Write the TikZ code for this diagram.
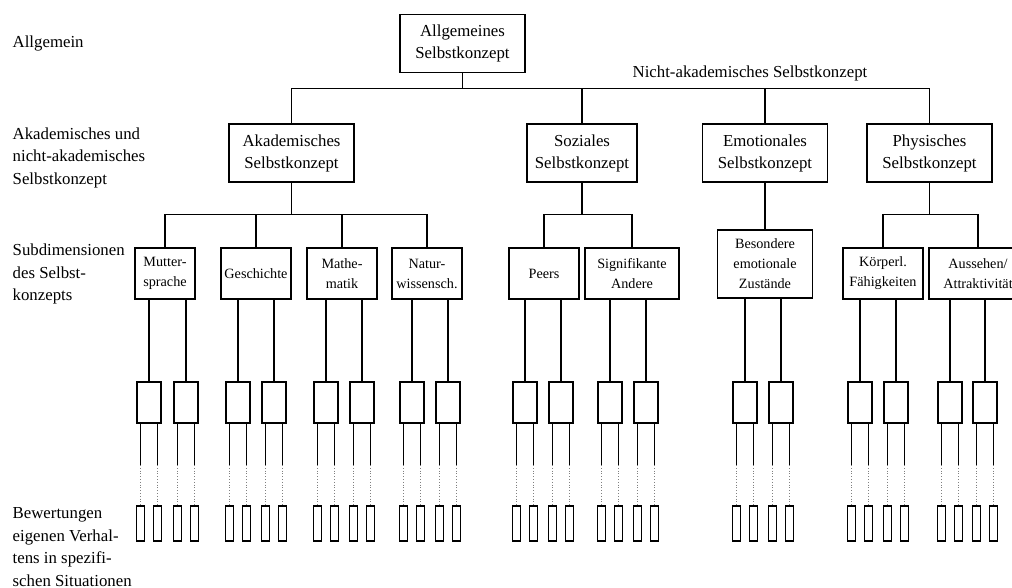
\documentclass[tikz,border=0pt]{standalone}
\usepackage{fontspec}
\setmainfont{Liberation Serif}
\begin{document}
\begin{tikzpicture}[x=0.5pt, y=-0.5pt, line width=0.7pt,
        lvl/.style={font=\fontsize{8.4}{11.25}\selectfont, align=left, anchor=west, inner sep=0pt},
        top/.style={rectangle, draw, align=center, inner sep=0pt, minimum height=29pt, font=\fontsize{8.4}{11}\selectfont},
        sub/.style={rectangle, draw, align=center, inner sep=0pt, minimum height=25.5pt, font=\fontsize{7.1}{10}\selectfont},
        midbox/.style={rectangle, draw, inner sep=0pt, minimum width=12pt, minimum height=20.5pt},
        tinybox/.style={rectangle, draw, inner sep=0pt, minimum width=4pt, minimum height=17.5pt}
    ]
    \useasboundingbox (0,0) rectangle (1012,588);
    \clip (0,0) rectangle (1012,588);
    % Ebenen
    \node[lvl] (lallg) at (12,43) {Allgemein};
    \node[lvl] (lakad) at (12,157.5) {Akademisches und\\nicht-akademisches\\Selbstkonzept};
    \node[lvl] (lsub) at (12,274) {Subdimensionen\\des Selbst-\\konzepts};
    \node[lvl] (lbew) at (12,547) {Bewertungen\\eigenen Verhal-\\tens in spezifi-\\schen Situationen};
    % Allgemeines Selbstkonzept
    \node[top, minimum width=62.5pt] (allg) at (462.5,43.5) {Allgemeines\\Selbstkonzept};
    \node[top, minimum width=62.5pt] (ak) at (291.5,153) {Akademisches\\Selbstkonzept};
    \node[top, minimum width=55pt] (so) at (582,153) {Soziales\\Selbstkonzept};
    \node[top, minimum width=62.5pt] (em) at (765,153) {Emotionales\\Selbstkonzept};
    \node[top, minimum width=62.5pt] (ph) at (929.5,153) {Physisches\\Selbstkonzept};
    \node[lvl, anchor=east] (nak) at (868,73) {Nicht-akademisches Selbstkonzept};
    \draw (allg.south) -- (allg.south |- 0,89);
    \draw (ak.north) -- ++(0,-35) -| (ph.north);
    \draw (so.north) -- (so.north |- 0,89);
    \draw (em.north) -- (em.north |- 0,89);
    % Subdimensionen
    \node[sub, minimum width=30pt] (mu) at (165,273.5) {Mutter-\\sprache};
    \node[sub, minimum width=35pt] (ge) at (256,273.5) {Geschichte};
    \node[sub, minimum width=35pt] (ma) at (342,273.5) {Mathe-\\matik};
    \node[sub, minimum width=35pt] (na) at (427,273.5) {Natur-\\wissensch.};
    \node[sub, minimum width=35pt] (pe) at (544,273.5) {Peers};
    \node[sub, minimum width=47pt] (si) at (632,273.5) {Signifikante\\Andere};
    \node[sub, minimum width=47.5pt, minimum height=34pt] (be) at (765,264) {Besondere\\emotionale\\Zustände};
    \node[sub, minimum width=40pt] (ko) at (883,273.5) {Körperl.\\Fähigkeiten};
    \node[sub, minimum width=49pt] (au) at (978,273.5) {Aussehen/\\Attraktivität};
    \draw (ak.south) -- (ak.south |- 0,215);
    \draw (mu.north) -- ++(0,-33) -| (na.north);
    \draw (ge.north) -- (ge.north |- 0,215);
    \draw (ma.north) -- (ma.north |- 0,215);
    \draw (so.south) -- (so.south |- 0,215);
    \draw (pe.north) -- ++(0,-33) -| (si.north);
    \draw (em.south) -- (be.north);
    \draw (ph.south) -- (ph.south |- 0,215);
    \draw (ko.north) -- ++(0,-33) -| (au.north);
    % Bewertungen
    \foreach \s/\a/\b in {mu/149/186, ge/238/274, ma/326/362, na/412/448, pe/525/561,
                          si/610/646, be/745/781, ko/860/896, au/950/985}{
        \foreach \j/\x in {1/\a, 2/\b}{
            \node[midbox] (\s\j) at (\x,402.5) {};
            \draw (\s.south -| \s\j) -- (\s\j.north);
            \foreach \d/\k in {-8.5/l, 8.5/r}{
                \node[tinybox] (\s\j\k) at (\x+\d,523.5) {};
                \coordinate (d\s\j\k) at (\x+\d,465);
                \draw (\s\j.south -| \s\j\k) -- (d\s\j\k);
                \draw[densely dotted, line width=0.4pt, gray] (d\s\j\k) -- (\s\j\k.north);
            }
        }
    }
\end{tikzpicture}
\end{document}
